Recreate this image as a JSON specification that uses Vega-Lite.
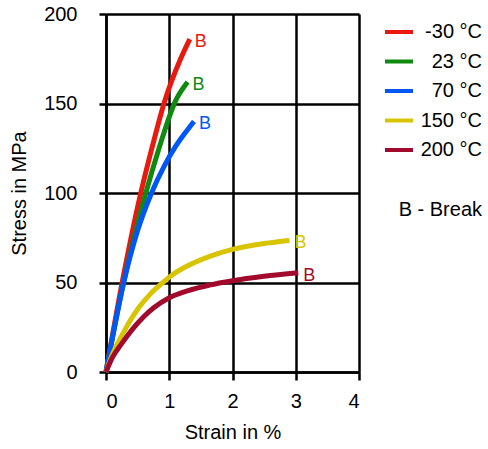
{
  "$schema": "https://vega.github.io/schema/vega-lite/v6.json",
  "width": 253,
  "height": 358,
  "autosize": {"type": "none"},
  "padding": {"left": 106, "top": 14, "right": 129, "bottom": 77},
  "background": "white",
  "config": {
    "view": {"stroke": null},
    "font": "Liberation Sans",
    "axis": {
      "domainColor": "#000", "domainWidth": 2.5,
      "tickColor": "#000", "tickWidth": 2.5,
      "gridColor": "#000", "gridWidth": 2.5, "gridOpacity": 1,
      "labelColor": "#000", "labelFont": "Liberation Sans", "labelFontSize": 20,
      "titleColor": "#000", "titleFont": "Liberation Sans", "titleFontSize": 20, "titleFontWeight": "normal"
    },
    "legend": {
      "labelFont": "Liberation Sans", "labelFontSize": 20, "labelColor": "#000",
      "titleFont": "Liberation Sans", "titleFontSize": 20, "titleColor": "#000", "titleFontWeight": "normal"
    }
  },
  "data": {
    "values": [
      {"temp": "-30 °C", "strain": 0, "stress": 0},
      {"temp": "-30 °C", "strain": 0.25, "stress": 49},
      {"temp": "-30 °C", "strain": 0.55, "stress": 100},
      {"temp": "-30 °C", "strain": 0.74, "stress": 127},
      {"temp": "-30 °C", "strain": 0.925, "stress": 151},
      {"temp": "-30 °C", "strain": 1.18, "stress": 175},
      {"temp": "-30 °C", "strain": 1.325, "stress": 186},
      {"temp": "23 °C", "strain": 0, "stress": 0},
      {"temp": "23 °C", "strain": 0.26, "stress": 47},
      {"temp": "23 °C", "strain": 0.63, "stress": 100},
      {"temp": "23 °C", "strain": 0.83, "stress": 124},
      {"temp": "23 °C", "strain": 1.1, "stress": 151.5},
      {"temp": "23 °C", "strain": 1.29, "stress": 162},
      {"temp": "70 °C", "strain": 0, "stress": 0},
      {"temp": "70 °C", "strain": 0.28, "stress": 50},
      {"temp": "70 °C", "strain": 0.5, "stress": 79},
      {"temp": "70 °C", "strain": 0.72, "stress": 100},
      {"temp": "70 °C", "strain": 0.92, "stress": 115},
      {"temp": "70 °C", "strain": 1.1, "stress": 126},
      {"temp": "70 °C", "strain": 1.25, "stress": 133.5},
      {"temp": "70 °C", "strain": 1.39, "stress": 140},
      {"temp": "150 °C", "strain": 0, "stress": 0},
      {"temp": "150 °C", "strain": 0.08, "stress": 8},
      {"temp": "150 °C", "strain": 0.29, "stress": 23},
      {"temp": "150 °C", "strain": 0.52, "stress": 36},
      {"temp": "150 °C", "strain": 0.7, "stress": 43.5},
      {"temp": "150 °C", "strain": 0.9, "stress": 50},
      {"temp": "150 °C", "strain": 1.0, "stress": 53},
      {"temp": "150 °C", "strain": 1.3, "stress": 59.5},
      {"temp": "150 °C", "strain": 1.63, "stress": 64.5},
      {"temp": "150 °C", "strain": 2.0, "stress": 68.5},
      {"temp": "150 °C", "strain": 2.5, "stress": 71.8},
      {"temp": "150 °C", "strain": 2.9, "stress": 73.5},
      {"temp": "200 °C", "strain": 0, "stress": 0},
      {"temp": "200 °C", "strain": 0.1, "stress": 8},
      {"temp": "200 °C", "strain": 0.25, "stress": 16},
      {"temp": "200 °C", "strain": 0.42, "stress": 24},
      {"temp": "200 °C", "strain": 0.6, "stress": 31},
      {"temp": "200 °C", "strain": 0.76, "stress": 36},
      {"temp": "200 °C", "strain": 1.0, "stress": 41.5},
      {"temp": "200 °C", "strain": 1.3, "stress": 45.5},
      {"temp": "200 °C", "strain": 1.63, "stress": 48.5},
      {"temp": "200 °C", "strain": 2.0, "stress": 51},
      {"temp": "200 °C", "strain": 2.5, "stress": 53.5},
      {"temp": "200 °C", "strain": 3.04, "stress": 55.5}
    ]
  },
  "encoding": {
    "x": {
      "field": "strain", "type": "quantitative",
      "scale": {"domain": [0, 4], "nice": false, "zero": false},
      "axis": {"title": "Strain in %", "values": [0, 1, 2, 3, 4], "tickSize": 8, "labelPadding": 11, "titlePadding": 11, "grid": true}
    },
    "y": {
      "field": "stress", "type": "quantitative",
      "scale": {"domain": [0, 200], "nice": false},
      "axis": {"title": "Stress in MPa", "values": [0, 50, 100, 150, 200], "tickSize": 7, "labelPadding": 22, "titlePadding": 14, "grid": true}
    },
    "color": {
      "field": "temp", "type": "nominal",
      "scale": {
        "domain": ["-30 °C", "23 °C", "70 °C", "150 °C", "200 °C"],
        "range": ["#E8190E", "#0E8A0E", "#0057F5", "#D8C400", "#A10A2C"]
      }
    }
  },
  "layer": [
    {
      "mark": {"type": "line", "interpolate": "monotone", "strokeWidth": 5, "strokeCap": "butt"},
      "encoding": {
        "order": {"field": "strain", "type": "quantitative"},
        "color": {
          "field": "temp", "type": "nominal",
          "legend": {
            "title": "B - Break",
            "titleOrient": "bottom", "titleAnchor": "end", "titlePadding": 40,
            "orient": "none", "legendX": 277, "legendY": 2,
            "symbolType": "stroke", "symbolSize": 784, "symbolStrokeWidth": 4,
            "labelAlign": "right", "labelOffset": 67, "rowPadding": 3.5
          }
        }
      }
    },
    {
      "transform": [
        {"joinaggregate": [{"op": "max", "field": "strain", "as": "maxStrain"}], "groupby": ["temp"]},
        {"filter": "datum.strain === datum.maxStrain"}
      ],
      "mark": {"type": "text", "text": "B", "align": "left", "baseline": "middle", "dx": 5, "dy": 3, "fontSize": 18, "font": "Liberation Sans"},
      "encoding": {
        "color": {"field": "temp", "type": "nominal", "legend": null}
      }
    }
  ]
}
